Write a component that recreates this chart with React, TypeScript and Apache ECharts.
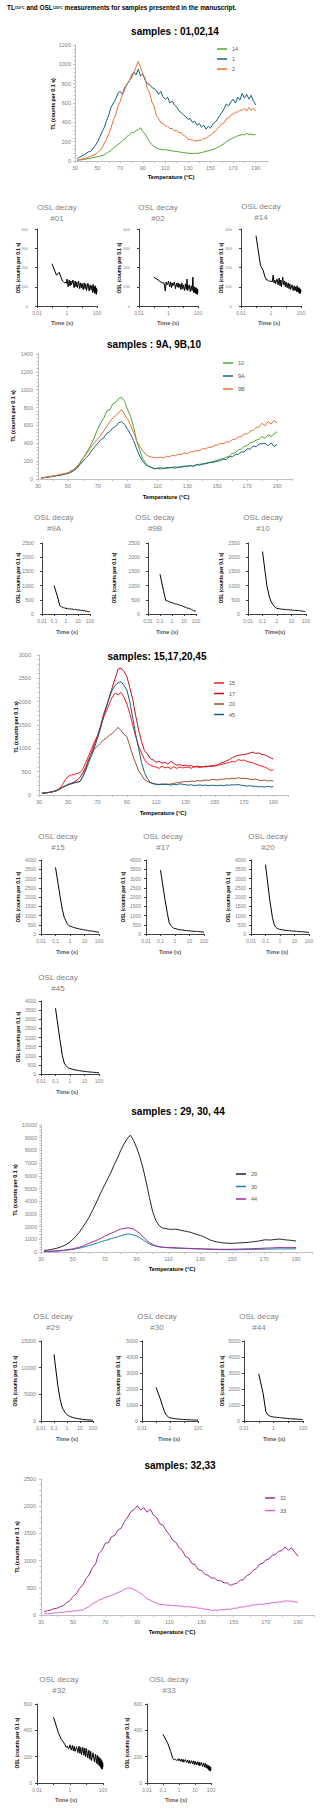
import React, { useEffect, useRef } from 'react';
import * as echarts from 'echarts';

// ---------- TL data: temperature grid (°C) ----------
const temps = [32,34,36,38,40,42,44,46,48,50,52,54,56,58,60,62,64,66,68,70,72,74,76,78,80,82,84,86,88,90,92,94,96,98,100,102,104,106,108,110,112,114,116,118,120,122,124,126,128,130,132,134,136,138,140,142,144,146,148,150,152,154,156,158,160,162,164,166,168,170,172,174,176,178,180,182,184,186,188,190];

// samples 01,02,14
const tl14 = [5,10,12,18,20,25,30,35,40,45, 50,55,65,80,95,110,135,150,170,185, 210,225,255,265,295,295,315,325,345,305, 280,240,200,170,150,135,125,120,115,118, 112,110,105,100,98,95,90,88,85,80, 78,75,80,78,82,88,92,100,105,110, 120,128,140,150,165,180,200,215,225,240, 250,260,265,275,270,285,275,280,270,275];
const tl1 = [25,40,50,65,80,95,100,130,160,200, 250,300,350,420,480,560,600,640,700,720, 690,760,790,830,860,920,890,950,880,900, 840,800,790,760,750,730,690,720,660,640, 660,600,620,580,560,520,500,480,460,430, 440,400,410,370,390,350,370,330,360,340, 380,400,430,470,500,540,590,570,610,640, 600,660,630,700,650,690,640,680,620,580];
const tl2 = [10,15,20,25,30,40,50,60,70,85, 110,135,185,225,285,345,425,475,565,615, 690,735,800,820,890,915,970,1030,970,900, 860,750,710,610,570,470,440,395,385,365, 355,335,335,315,315,295,295,265,255,225, 220,220,205,210,215,215,235,235,255,265, 295,305,335,355,385,395,435,445,475,485, 505,505,525,525,545,515,555,525,545,515];

// samples 9A, 9B, 10
const tl10 = [10,15,20,25,30,38,45,50,58,65, 80,100,130,170,230,280,340,400,480,560, 630,680,760,775,840,860,900,915,870,775, 700,580,430,330,230,180,145,130,115,120, 110,125,115,130,125,120,135,130,140,145, 150,140,160,165,170,175,185,190,200,210, 225,228,245,255,285,295,325,335,365,375, 405,415,435,445,475,455,495,475,505,530];
const tl9A = [10,15,20,25,30,35,40,45,55,60, 75,95,120,160,200,235,270,320,360,400, 440,460,510,530,570,590,630,640,610,555, 500,430,340,260,200,160,140,130,115,120, 125,115,130,125,130,135,130,140,145,140, 150,145,160,155,165,170,180,185,190,200, 205,222,218,248,250,272,276,302,305,338, 335,368,362,390,395,398,372,405,365,385];
const tl9B = [12,18,22,28,35,40,48,55,62,70, 90,110,140,185,230,270,320,370,410,450, 490,540,590,640,680,710,740,780,720,670, 600,520,430,370,320,280,255,245,240,235, 245,235,255,250,265,260,280,275,290,285, 305,305,320,315,340,335,355,355,375,380, 400,395,415,415,440,445,470,475,505,505, 535,545,575,585,625,595,645,615,655,630];

// samples 15,17,20,45
const tl15 = [40,45,55,65,80,100,140,220,330,400, 430,440,460,480,560,700,850,1000,1150,1280, 1450,1650,1800,1950,2100,2180,2150,2200,2100,1950, 1750,1500,1250,1050,900,760,680,640,610,600, 570,620,580,600,560,610,570,600,580,590, 600,570,610,600,590,610,600,620,610,630, 640,650,670,680,700,720,710,760,740,750, 720,700,690,660,640,620,600,570,530,540];
const tl17 = [40,45,50,60,75,95,130,170,200,230, 250,280,320,380,480,600,760,920,1100,1250, 1480,1720,1900,2100,2300,2500,2700,2720,2650,2540, 2300,2050,1700,1400,1150,950,880,780,750,700, 720,680,700,660,720,680,640,650,630,640, 620,630,600,620,610,600,620,610,630,620, 650,680,700,730,760,800,830,850,860,870, 880,900,920,890,900,870,860,830,800,770];
const tl20 = [40,45,50,60,75,90,120,160,190,220, 240,260,275,290,400,580,780,900,990,1050, 1110,1180,1220,1280,1320,1380,1450,1380,1300,1250, 1050,850,680,520,430,330,290,260,250,230, 230,220,240,230,235,250,260,270,280,290, 285,300,290,310,300,310,320,315,330,330, 320,340,335,350,345,360,350,370,355,360, 350,340,330,340,320,310,320,300,310,300];
const tl45 = [35,40,50,60,75,90,120,160,190,220, 240,260,275,290,400,530,700,850,1030,1220, 1420,1680,1880,2080,2250,2350,2400,2430,2350,2250, 2000,1650,1300,1000,700,480,350,270,240,230, 220,240,220,230,210,230,220,240,230,220, 210,220,200,210,215,205,210,200,210,205, 200,210,200,215,210,220,215,225,210,200, 190,200,185,190,175,180,170,185,175,180];

// samples 29, 30, 44
const tl29 = [120,150,190,240,300,380,480,600,780,1000, 1250,1550,1900,2300,2700,3200,3700,4250,4800,5300, 5800,6300,6900,7400,8000,8500,8900,9200,8800,8200, 7500,6600,5500,4300,3200,2500,2100,1900,1850,1800, 1780,1800,1760,1700,1650,1600,1550,1450,1380,1300, 1200,1080,950,870,800,760,720,700,690,680, 700,710,730,740,760,790,820,850,900,950, 960,940,980,1000,1020,980,950,930,900,860];
const tl30 = [30,40,50,60,75,90,110,140,170,200, 250,300,360,430,500,580,660,740,820,900, 960,1050,1120,1200,1280,1350,1420,1400,1350,1260, 1130,950,780,640,540,460,410,380,350,330, 320,310,300,290,280,270,260,250,245,240, 230,220,210,200,195,190,185,180,180,175, 180,180,185,190,195,200,205,210,215,220, 225,230,235,240,245,240,250,245,250,250];
const tl44 = [40,50,60,75,90,110,140,170,210,250, 310,380,460,560,680,780,880,980,1100,1250, 1350,1480,1580,1700,1800,1850,1900,1880,1800,1650, 1450,1200,950,750,600,490,420,380,360,350, 340,330,320,310,300,290,280,270,260,250, 245,240,235,225,220,215,215,210,215,220, 225,230,240,245,250,260,270,280,290,300, 310,320,330,340,350,345,350,340,350,355];

// samples 32,33
const tl32 = [60,80,90,115,125,155,175,225,265,340, 390,490,550,665,740,865,940,1130,1190,1320, 1330,1440,1465,1560,1600,1720,1800,1900,1940,2010, 1930,1975,1890,1945,1840,1790,1675,1655,1545,1475, 1375,1335,1235,1185,1075,1045,945,925,830,820, 750,730,680,680,630,630,590,590,545,570, 580,640,650,720,750,820,850,930,950,1010, 1030,1100,1110,1170,1180,1250,1190,1235,1160,1080];
const tl33 = [20,28,27,38,37,48,47,63,62,73, 75,88,90,125,155,205,235,275,295,325, 335,365,385,415,435,475,495,495,465,435, 395,355,295,275,240,225,195,195,180,185, 170,175,163,165,150,155,140,145,125,125, 105,105,85,90,85,100,95,110,105,125, 125,145,145,165,165,185,185,200,195,210, 210,230,225,240,240,260,255,255,240,235];

// ---------- OSL decay data: time (s) ----------
const oslTime = [0.1,0.2,0.3,0.4,0.5,0.6,0.7,0.8,0.9,1, 1.2,1.4,1.6,1.8,2, 2.5,3,3.5,4,4.5,5, 6,7,8,9,10, 12,14,16,18,20, 25,30,35,40,45,50, 55,60,65,70,75,80,85,90,95,100];

const osl01 = [220,160,175,150,130,125,120,125,118,140, 100,135,105,130,110, 135,95,130,100,125,95, 128,90,120,95,118, 85,120,90,115,80, 118,78,110,85,105,70, 112,75,100,65,105,70,95,60,90,70];
const osl02 = [150,135,125,120,120,78,125,110,115,130, 100,125,95,120,105, 125,90,118,100,120,95, 115,85,120,90,110, 80,115,85,140,80, 110,75,105,80,150,70, 100,70,95,65,95,65,90,60,85,70];
const osl14 = [365,210,185,150,135,135,130,130,128,130, 125,160,120,135,115, 140,110,145,105,135,100, 150,110,130,100,125, 95,120,90,115,85, 110,80,105,80,100,75, 105,75,95,70,95,65,90,65,85,75];
const osl9A = [1000,600,300,260,240,225,215,210,205,200, 190,200,180,190,175, 185,165,175,160,170,155, 165,150,160,145,150, 135,145,130,140,120, 130,110,125,105,115,100, 110,90,105,85,100,80,95,75,90,80];
const osl9B = [1400,800,480,460,450,430,420,410,405,400, 380,385,360,370,350, 355,330,340,310,325,300, 300,280,285,260,260, 240,245,220,225,200, 205,180,185,160,170,140, 150,120,140,110,130,100,120,90,110,95];
const osl10 = [2200,1000,600,420,350,290,250,225,210,200, 185,190,175,180,165, 170,160,165,150,160,148, 155,140,150,135,145, 130,140,125,135,120, 130,115,125,110,120,100, 115,95,110,90,105,90,100,85,95,90];
const osl15 = [3600,2100,1300,900,750,600,520,470,440,420, 410,380,375,350,355, 320,315,290,295,270,275, 250,255,230,235,215, 215,195,200,180,185, 165,165,150,155,135,140, 125,130,115,120,110,115,100,105,95,100];
const osl17 = [3450,1900,1100,600,480,400,350,320,300,290, 285,260,255,240,240, 225,220,205,210,195,195, 185,185,170,175,165, 165,155,158,148,150, 140,142,132,135,125,128, 120,122,115,118,110,112,105,108,100,104];
const osl20 = [3750,1800,900,500,380,320,290,270,255,245, 240,225,222,210,208, 195,195,182,185,175,172, 165,165,155,158,148, 148,140,142,132,135, 125,127,118,120,112,115, 105,108,100,102,95,98,90,93,88,90];
const osl45 = [3600,1900,1000,600,480,400,360,330,310,300, 280,265,255,240,235, 215,210,195,190,180,175, 165,160,150,148,140, 135,128,125,118,115, 108,105,98,96,90,88, 82,80,78,76,74,72,70,68,66,65];
const osl29 = [12500,6500,4000,2800,2200,1900,1600,1400,1300,1200, 1050,950,880,820,780, 700,640,600,560,540,510, 470,440,420,400,380, 350,330,310,295,280, 260,240,225,215,205,195, 185,180,170,165,160,155,150,145,140,140];
const osl30 = [2100,1400,900,600,420,330,280,240,215,200, 185,175,165,158,150, 140,132,126,120,116,112, 106,102,98,95,92, 88,85,82,80,78, 75,72,70,68,66,64, 63,62,61,60,59,58,57,56,55,55];
const osl44 = [2950,1700,600,400,330,300,280,265,255,250, 240,235,228,222,218, 210,202,196,190,186,182, 175,170,165,160,155, 148,144,140,136,132, 126,122,118,115,112,110, 108,106,104,102,101,100,99,98,97,96];
const osl32 = [500,380,330,310,290,270,280,260,265,290, 250,285,245,280,240, 275,230,280,225,270,215, 270,210,265,200,260, 190,250,180,240,170, 230,160,220,150,210,140, 200,130,190,120,180,110,170,105,155,120];
const osl33 = [370,300,240,190,175,180,172,178,170,185, 165,182,160,180,158, 178,155,175,150,172,148, 170,145,168,140,165, 138,162,135,160,130, 158,125,152,120,148,115, 140,110,135,100,130,95,125,90,120,100];

const FF = "'Liberation Sans', Arial, Helvetica, sans-serif";
const plain = (v: number) => String(Math.round(v));

function txt(x: number, y: number, text: string, size: number, color = '#000', weight = 'normal', align = 'center', rotation = 0): any {
  return {
    type: 'text', x, y, rotation, silent: true,
    style: { text, fontSize: size, fontFamily: FF, fontWeight: weight, fill: color, align, verticalAlign: 'middle' },
  };
}

function buildOption(): any {
  const grid: any[] = [];
  const xAxis: any[] = [];
  const yAxis: any[] = [];
  const series: any[] = [];
  const legend: any[] = [];
  const graphic: any[] = [];

  graphic.push({
    type: 'text', x: 7, y: 7, silent: true,
    style: {
      text: '{b|TL}{s|110°C}{b| and OSL}{s|125°C}{b| measurements for samples presented in the manuscript.}',
      fontFamily: FF, align: 'left', verticalAlign: 'middle', fill: '#000',
      rich: {
        b: { fontSize: 6.4, fontWeight: 'bold', fontFamily: FF, fill: '#000', verticalAlign: 'bottom' },
        s: { fontSize: 3.6, fontWeight: 'bold', fontFamily: FF, fill: '#000', verticalAlign: 'bottom' },
      },
    },
  });

  const tlCharts = [
    { left: 75, top: 45, width: 192, height: 116, max: 1200, interval: 200, ym: 4,
      series: [['14', tl14, '#4ea72e'], ['1', tl1, '#156082'], ['2', tl2, '#e97132']],
      leg: { left: 217, top: 46, gap: 4 }, title: ['samples : 01,02,14', 175, 31], xt: [171, 177], yt: [53, 104] },
    { left: 38, top: 354, width: 254, height: 125, max: 1400, interval: 200, ym: 5,
      series: [['10', tl10, '#4ea72e'], ['9A', tl9A, '#156082'], ['9B', tl9B, '#e97132']],
      leg: { left: 223, top: 360, gap: 7 }, title: ['samples : 9A, 9B,10', 154, 344], xt: [166, 497], yt: [13, 416] },
    { left: 39, top: 655, width: 249, height: 140, max: 3000, interval: 500, ym: 8,
      series: [['15', tl15, '#ff1a1a'], ['17', tl17, '#c0141c'], ['20', tl20, '#9c4f32'], ['45', tl45, '#156082']],
      leg: { left: 214, top: 680, gap: 4.5 }, title: ['samples: 15,17,20,45', 157, 656], xt: [163, 813], yt: [16, 727] },
    { left: 41, top: 1125, width: 271, height: 127, max: 10000, interval: 1000, ym: 4,
      series: [['29', tl29, '#262626'], ['30', tl30, '#1f7fa6'], ['44', tl44, '#a02b93']],
      leg: { left: 236, top: 1171, gap: 6.5 }, title: ['samples : 29, 30, 44', 178, 1111], xt: [172, 1269], yt: [15, 1190] },
    { left: 41, top: 1479, width: 273, height: 136, max: 2500, interval: 500, ym: 5,
      series: [['32', tl32, '#a02b93'], ['33', tl33, '#d96bd0']],
      leg: { left: 265, top: 1495, gap: 6.5 }, title: ['samples: 32,33', 180, 1465], xt: [172, 1632], yt: [17, 1547] },
  ];

  tlCharts.forEach((c) => {
    const gi = grid.length;
    grid.push({ left: c.left, top: c.top, width: c.width, height: c.height });
    xAxis.push({
      gridIndex: gi, type: 'value', min: 30, max: 200, interval: 10,
      axisLine: { show: true, lineStyle: { color: '#bfbfbf', width: 1 } },
      axisTick: { show: true, length: 2, lineStyle: { color: '#bfbfbf' } },
      axisLabel: {
        fontSize: 5.5, color: '#7f7f7f', fontFamily: FF, margin: 4,
        formatter: (v: number) => { const r = Math.round(v); return (r - 30) % 20 === 0 && r < 195 ? String(r) : ''; },
      },
      splitLine: { show: false },
    });
    yAxis.push({
      gridIndex: gi, type: 'value', min: 0, max: c.max, interval: c.interval,
      axisLine: { show: true, lineStyle: { color: '#bfbfbf', width: 1 } },
      axisTick: { show: true, length: 2, lineStyle: { color: '#bfbfbf' } },
      minorTick: { show: true, splitNumber: 5, length: 1.5, lineStyle: { color: '#bfbfbf' } },
      axisLabel: { fontSize: 5.5, color: '#7f7f7f', fontFamily: FF, margin: c.ym, formatter: plain },
      splitLine: { show: false },
    });
    c.series.forEach((s: any) => {
      series.push({
        type: 'line', name: s[0], xAxisIndex: gi, yAxisIndex: gi,
        data: temps.map((t, i) => [t, s[1][i]]),
        showSymbol: false, symbol: 'none', silent: true,
        lineStyle: { color: s[2], width: 1 }, itemStyle: { color: s[2] },
      });
    });
    legend.push({
      show: true, orient: 'vertical', left: c.leg.left, top: c.leg.top, padding: 0,
      itemWidth: 10, itemHeight: 1.5, itemGap: c.leg.gap, icon: 'rect', selectedMode: false,
      textStyle: { fontSize: 5.5, color: '#595959', fontFamily: FF },
      data: c.series.map((s: any) => s[0]),
    });
    graphic.push(txt(c.title[1] as number, c.title[2] as number, c.title[0] as string, 10, '#000', 'bold'));
    graphic.push(txt(c.xt[0], c.xt[1], 'Temperature (°C)', 5.8, '#000', 'bold'));
    graphic.push(txt(c.yt[0], c.yt[1], 'TL (counts per 0.1 s)', 5.3, '#000', 'bold', 'center', Math.PI / 2));
  });

  const oslCharts = [
    { id: '#01', data: osl01, left: 37, top: 229, width: 60, height: 77, max: 400, interval: 100, sparse: true, yf: 4, ym: 9, tx: 57, ty: 207, xt: [62, 323], yt: [18, 268] },
    { id: '#02', data: osl02, left: 139, top: 229, width: 59, height: 77, max: 400, interval: 100, sparse: true, yf: 4, ym: 9, tx: 158, ty: 207, xt: [168, 323], yt: [119, 268] },
    { id: '#14', data: osl14, left: 241, top: 229, width: 60, height: 77, max: 400, interval: 100, sparse: true, yf: 4, ym: 9, tx: 261, ty: 206, xt: [269, 323], yt: [221, 268] },
    { id: '#9A', data: osl9A, left: 42, top: 543, width: 48, height: 71, max: 2500, interval: 500, sparse: false, yf: 5.3, ym: 8, tx: 54, ty: 517, xt: [67, 632], yt: [18, 578], tl: 'Time (s)' },
    { id: '#9B', data: osl9B, left: 148, top: 543, width: 48, height: 71, max: 2500, interval: 500, sparse: false, yf: 5.3, ym: 8, tx: 155, ty: 517, xt: [167, 632], yt: [114, 578], tl: 'Time (s)' },
    { id: '#10', data: osl10, left: 248, top: 543, width: 58, height: 71, max: 2500, interval: 500, sparse: false, yf: 5.3, ym: 8, tx: 263, ty: 517, xt: [275, 632], yt: [221, 578], tl: 'Time(s)' },
    { id: '#15', data: osl15, left: 41, top: 860, width: 58, height: 74, max: 4000, interval: 500, sparse: false, yf: 5, ym: 5, tx: 58, ty: 836, xt: [67, 952], yt: [18, 897] },
    { id: '#17', data: osl17, left: 146, top: 860, width: 58, height: 74, max: 4000, interval: 500, sparse: false, yf: 5, ym: 5, tx: 163, ty: 836, xt: [170, 952], yt: [123, 897] },
    { id: '#20', data: osl20, left: 251, top: 860, width: 58, height: 74, max: 4000, interval: 500, sparse: false, yf: 5, ym: 5, tx: 268, ty: 836, xt: [277, 952], yt: [228, 897] },
    { id: '#45', data: osl45, left: 41, top: 1001, width: 58, height: 73, max: 4000, interval: 500, sparse: false, yf: 5, ym: 5, tx: 58, ty: 977, xt: [67, 1092], yt: [18, 1037] },
    { id: '#29', data: osl29, left: 41, top: 1341, width: 52, height: 80, max: 15000, interval: 5000, sparse: false, yf: 5.3, ym: 5, tx: 53, ty: 1316, xt: [67, 1439], yt: [15, 1381] },
    { id: '#30', data: osl30, left: 142, top: 1341, width: 56, height: 80, max: 5000, interval: 1000, sparse: true, yf: 5.3, ym: 4, tx: 157, ty: 1316, xt: [169, 1439], yt: [118, 1381] },
    { id: '#44', data: osl44, left: 244, top: 1341, width: 59, height: 80, max: 5000, interval: 1000, sparse: true, yf: 5.3, ym: 4, tx: 259, ty: 1316, xt: [274, 1439], yt: [222, 1381] },
    { id: '#32', data: osl32, left: 37, top: 1704, width: 66, height: 79, max: 600, interval: 200, sparse: true, yf: 5, ym: 5, tx: 59, ty: 1679, xt: [66, 1800], yt: [17, 1743] },
    { id: '#33', data: osl33, left: 147, top: 1704, width: 64, height: 79, max: 600, interval: 200, sparse: false, yf: 5, ym: 5, tx: 169, ty: 1679, xt: [176, 1800], yt: [127, 1743] },
  ];

  const decLabels = ['0,01', '0,1', '1', '10', '100'];
  oslCharts.forEach((c: any) => {
    const gi = grid.length;
    grid.push({ left: c.left, top: c.top, width: c.width, height: c.height });
    xAxis.push({
      gridIndex: gi, type: 'log', logBase: 10, min: 0.01, max: 100,
      axisLine: { show: true, lineStyle: { color: '#404040', width: 1 } },
      axisTick: { show: true, length: 2, lineStyle: { color: '#404040' } },
      axisLabel: {
        fontSize: 5, color: '#7f7f7f', fontFamily: FF, margin: 4,
        formatter: (v: number) => {
          const e = Math.round(Math.log10(v));
          if (c.sparse && e % 2 !== 0) return '';
          return decLabels[e + 2] ?? '';
        },
      },
      splitLine: { show: false },
    });
    yAxis.push({
      gridIndex: gi, type: 'value', min: 0, max: c.max, interval: c.interval,
      axisLine: { show: true, lineStyle: { color: '#404040', width: 1 } },
      axisTick: { show: true, length: 2, lineStyle: { color: '#404040' } },
      axisLabel: { fontSize: c.yf, color: '#7f7f7f', fontFamily: FF, margin: c.ym, formatter: plain },
      splitLine: { show: false },
    });
    series.push({
      type: 'line', name: 'OSL ' + c.id, xAxisIndex: gi, yAxisIndex: gi,
      data: oslTime.map((t, i) => [t, c.data[i]]),
      showSymbol: false, symbol: 'none', silent: true,
      lineStyle: { color: '#000', width: 1 }, itemStyle: { color: '#000' },
    });
    graphic.push(txt(c.tx, c.ty, 'OSL decay', 8, '#7f7f7f'));
    graphic.push(txt(c.tx, c.ty + 11, c.id, 8, '#7f7f7f'));
    graphic.push(txt(c.xt[0], c.xt[1], c.tl || 'Time (s)', 5.8, '#595959', 'bold'));
    graphic.push(txt(c.yt[0], c.yt[1], 'OSL (counts per 0.1 s)', 4.8, '#000', 'bold', 'center', Math.PI / 2));
  });

  return {
    animation: false,
    backgroundColor: '#ffffff',
    grid, xAxis, yAxis, series, legend, graphic,
  };
}

export default function App() {
  const ref = useRef<HTMLDivElement>(null);
  useEffect(() => {
    const chart = echarts.init(ref.current as HTMLDivElement, null, { renderer: 'svg', width: 320, height: 1809 });
    chart.setOption(buildOption());
    return () => chart.dispose();
  }, []);
  return (
    <div
      ref={ref}
      style={{ position: 'absolute', left: 0, top: 0, width: 320, height: 1809, background: '#fff' }}
    />
  );
}
